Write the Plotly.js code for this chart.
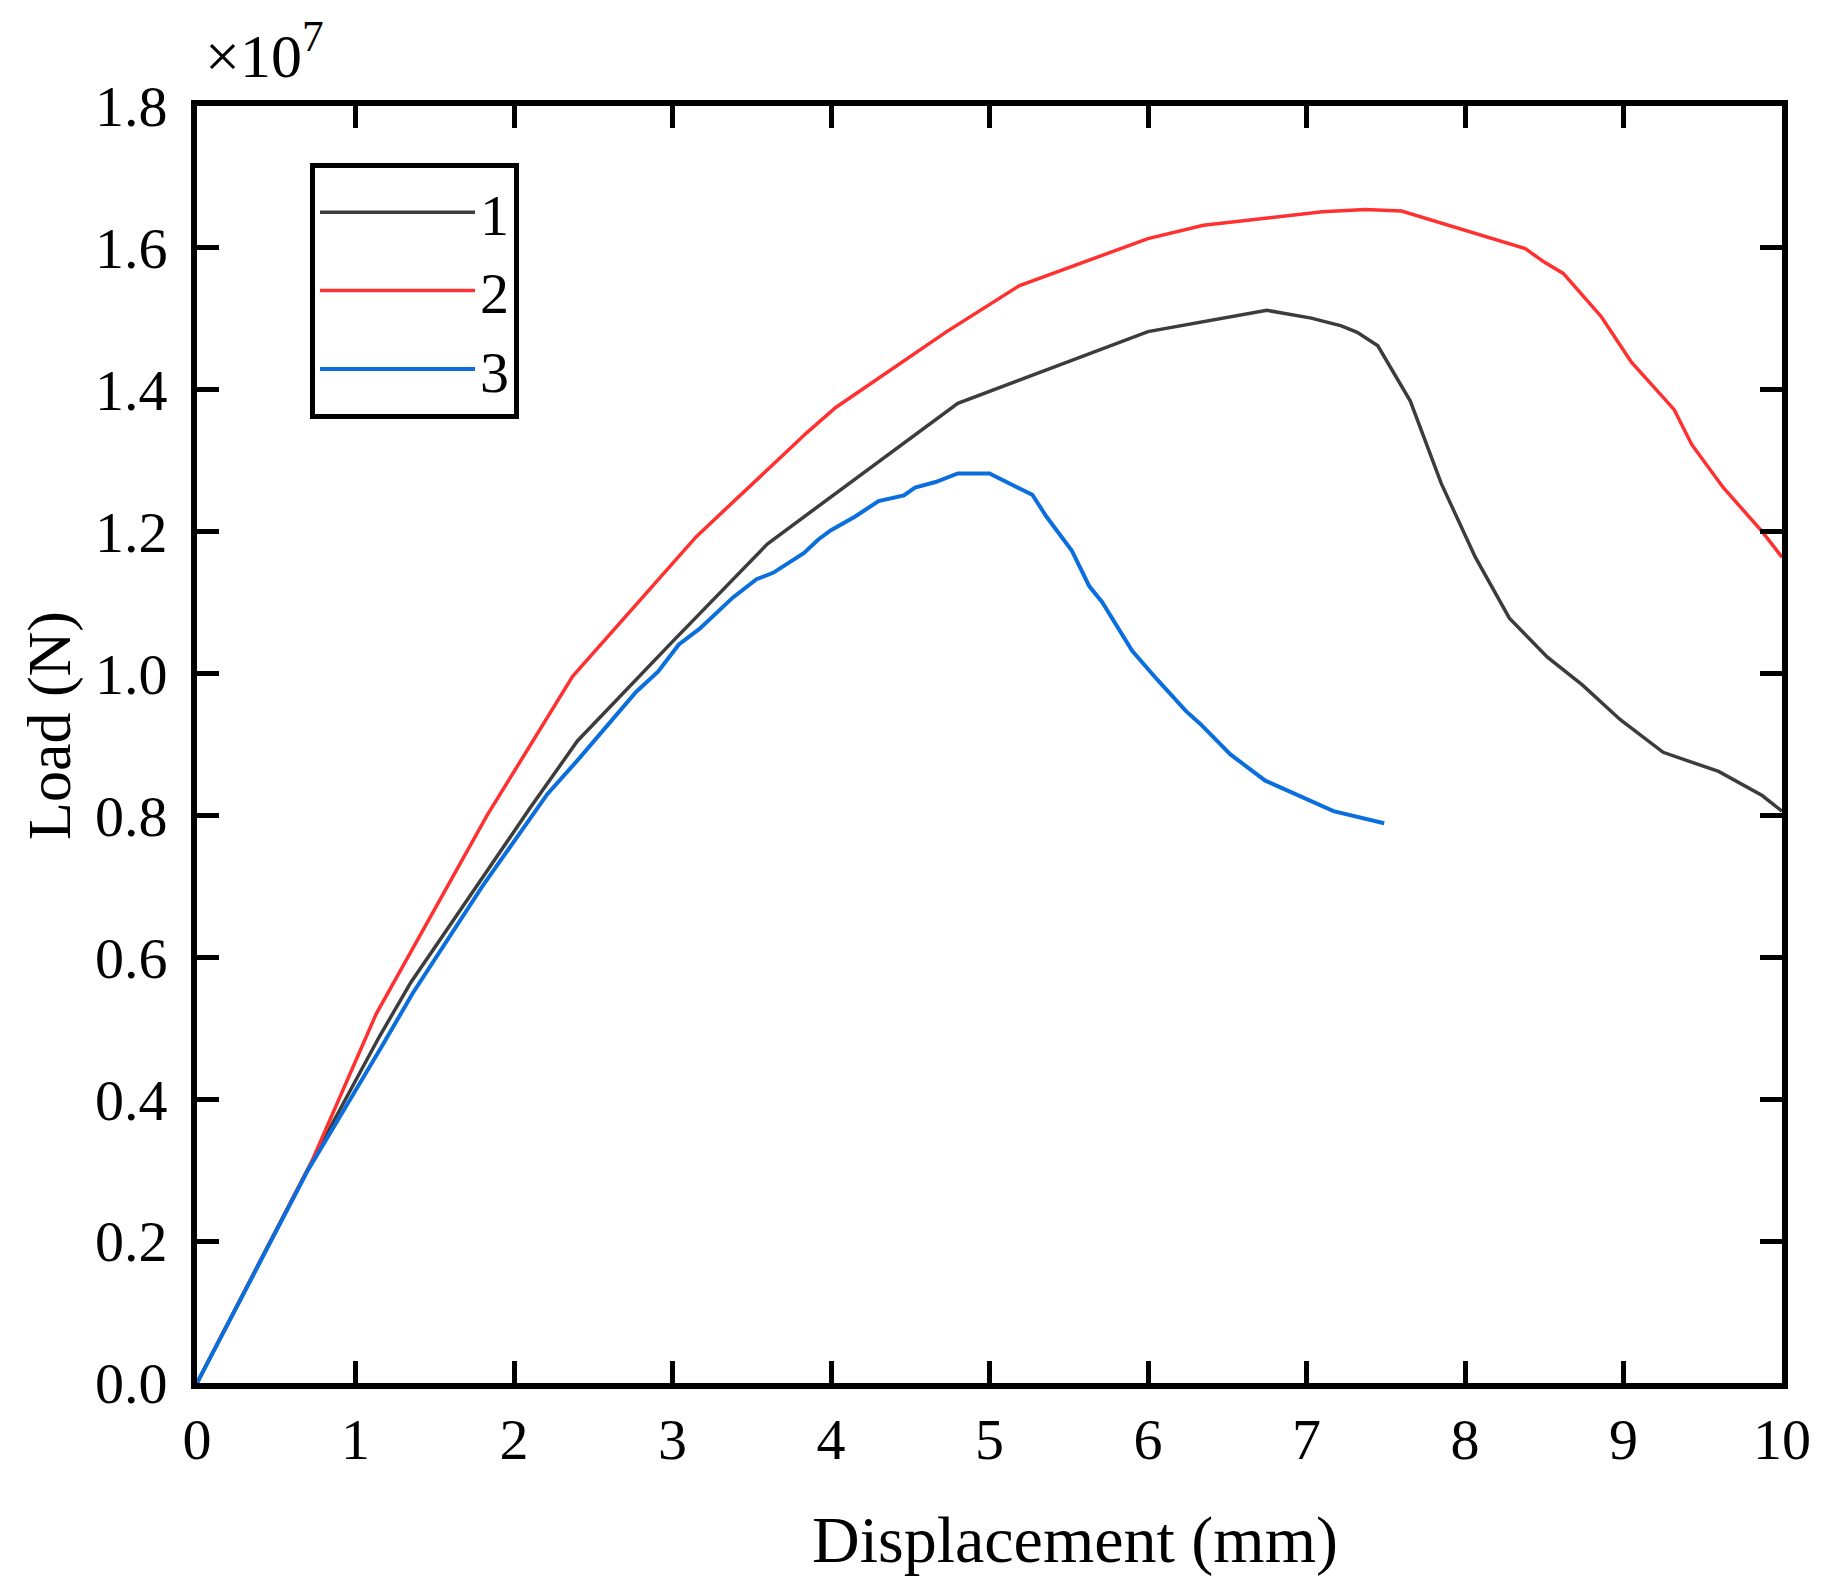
<!DOCTYPE html>
<html>
<head>
<meta charset="utf-8">
<script src="https://cdn.plot.ly/plotly-3.0.1.min.js"></script>
<style>
  html, body { margin: 0; padding: 0; background: #fff; }
  #chart { width: 1827px; height: 1592px; }
</style>
</head>
<body>
<div id="chart"></div>
<script>
// displacement in mm, load in units of 10^7 N
const disp1 = [0, 0.7, 1.15, 1.35, 2.1, 2.4, 3.0, 3.6, 4.8, 6.0, 6.75, 7.03, 7.22, 7.32, 7.45, 7.655, 7.85, 8.065, 8.28, 8.52, 8.74, 8.98, 9.25, 9.6, 9.875, 10];
const load1 = [0, 0.302, 0.488, 0.565, 0.81, 0.905, 1.045, 1.183, 1.381, 1.482, 1.512, 1.501, 1.49, 1.481, 1.462, 1.384, 1.268, 1.164, 1.078, 1.023, 0.984, 0.935, 0.889, 0.862, 0.828, 0.806];

const disp2 = [0, 0.72, 1.13, 1.83, 2.37, 3.15, 3.85, 4.03, 4.73, 5.19, 6.0, 6.35, 7.1, 7.37, 7.6, 8.38, 8.5, 8.62, 8.86, 9.05, 9.32, 9.43, 9.63, 9.875, 10];
const load2 = [0, 0.31, 0.52, 0.80, 0.996, 1.193, 1.34, 1.375, 1.482, 1.547, 1.613, 1.632, 1.651, 1.654, 1.652, 1.599, 1.58, 1.564, 1.503, 1.439, 1.372, 1.323, 1.262, 1.20, 1.164];

const disp3 = [0, 0.7, 1.17, 1.36, 1.8, 2.21, 2.41, 2.77, 2.91, 3.04, 3.17, 3.38, 3.53, 3.635, 3.83, 3.92, 4.0, 4.15, 4.3, 4.46, 4.53, 4.66, 4.8, 5.0, 5.27, 5.36, 5.52, 5.63, 5.71, 5.9, 6.06, 6.24, 6.33, 6.52, 6.74, 7.17, 7.49];
const load3 = [0, 0.30, 0.476, 0.549, 0.70, 0.83, 0.88, 0.974, 1.003, 1.041, 1.063, 1.107, 1.133, 1.142, 1.17, 1.189, 1.202, 1.221, 1.243, 1.251, 1.262, 1.27, 1.282, 1.282, 1.252, 1.221, 1.173, 1.123, 1.101, 1.032, 0.991, 0.947, 0.929, 0.886, 0.849, 0.806, 0.789];

const names = ['1', '2', '3'];
const colors = ['#3c3c3c', '#ff3030', '#0a6fdc'];

const serif = '"Liberation Serif", "Times New Roman", serif';

const traces = [
  { x: disp1, y: load1, name: names[0], mode: 'lines', line: { color: colors[0], width: 3.5 } },
  { x: disp2, y: load2, name: names[1], mode: 'lines', line: { color: colors[1], width: 3.5 } },
  { x: disp3, y: load3, name: names[2], mode: 'lines', line: { color: colors[2], width: 4 } }
];

const axisCommon = {
  showline: true,
  linecolor: '#000',
  linewidth: 6,
  mirror: 'ticks',
  ticks: 'inside',
  ticklen: 22,
  tickwidth: 5,
  tickcolor: '#000',
  showgrid: false,
  zeroline: false,
  tickfont: { family: serif, size: 58, color: '#000' }
};

const layout = {
  width: 1827,
  height: 1592,
  margin: { l: 197, r: 45, t: 106, b: 209 },
  paper_bgcolor: '#fff',
  plot_bgcolor: '#fff',
  font: { family: serif, color: '#000' },
  showlegend: true,
  xaxis: Object.assign({}, axisCommon, {
    range: [0, 10],
    dtick: 1,
    ticklabelstandoff: 0
  }),
  yaxis: Object.assign({}, axisCommon, {
    range: [0, 1.8],
    dtick: 0.2,
    tickformat: '.1f',
    ticklabelstandoff: 12
  }),
  legend: {
    x: 0.0713, y: 0.9554,
    xanchor: 'left', yanchor: 'top',
    bgcolor: '#fff',
    bordercolor: '#000',
    borderwidth: 5,
    itemwidth: 155,
    font: { family: serif, size: 58, color: '#000' }
  },
  annotations: [
    {
      xref: 'paper', yref: 'paper',
      x: 0.004, y: 1.0,
      xanchor: 'left', yanchor: 'bottom',
      yshift: 14,
      showarrow: false,
      text: '×10<sup>7</sup>',
      font: { family: serif, size: 62, color: '#000' }
    },
    {
      xref: 'paper', yref: 'paper',
      x: 0.554, y: -0.123,
      xanchor: 'center', yanchor: 'middle',
      showarrow: false,
      text: 'Displacement (mm)',
      font: { family: serif, size: 66, color: '#000' }
    },
    {
      xref: 'paper', yref: 'paper',
      x: -0.093, y: 0.515,
      xanchor: 'center', yanchor: 'middle',
      textangle: -90,
      showarrow: false,
      text: 'Load (N)',
      font: { family: serif, size: 62, color: '#000' }
    }
  ]
};

Plotly.newPlot('chart', traces, layout, { displayModeBar: false, staticPlot: true });
</script>
</body>
</html>
